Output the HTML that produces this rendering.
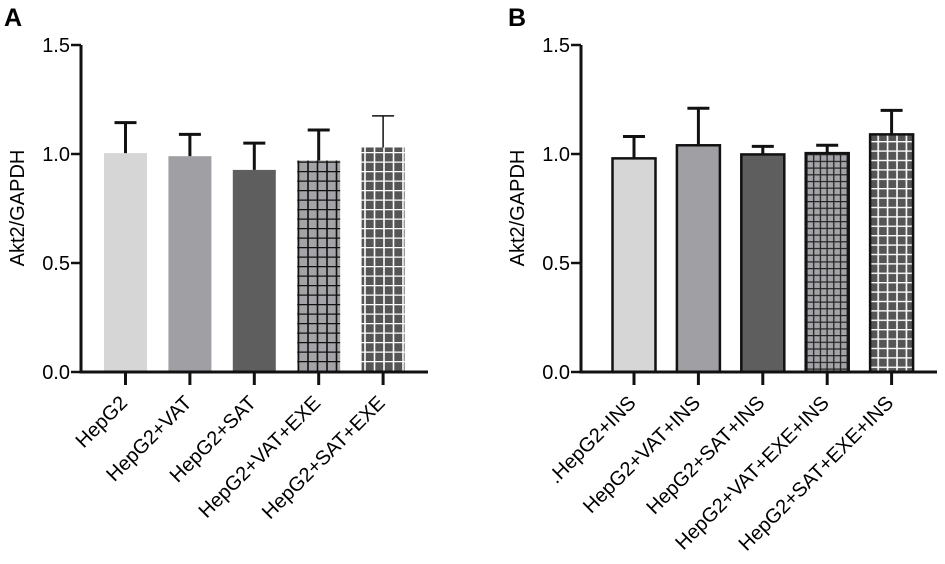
<!DOCTYPE html>
<html><head><meta charset="utf-8"><style>
body{margin:0;background:#fff}
svg{display:block;font-family:"Liberation Sans",Arial,sans-serif}
</style></head><body>
<svg id="chart" width="945" height="564" viewBox="0 0 945 564">
<defs>
<pattern id="pA4" width="9.5" height="9.5" patternUnits="userSpaceOnUse"><rect width="9.5" height="9.5" fill="#a4a4a8"/><path d="M0 0.5H9.5M4 0V9.5" stroke="#111" stroke-width="1.6"/></pattern>
<pattern id="pA5" width="9.5" height="9.5" patternUnits="userSpaceOnUse"><rect width="9.5" height="9.5" fill="#555"/><path d="M0 0.5H9.5M4 0V9.5" stroke="#fff" stroke-width="1.6"/></pattern>
<pattern id="pB4" width="6.7" height="6.7" patternUnits="userSpaceOnUse"><rect width="6.7" height="6.7" fill="#a4a4a8"/><path d="M0 0.5H6.7M3 0V6.7" stroke="#222" stroke-width="1.3"/></pattern>
<pattern id="pB5" width="9.4" height="9.4" patternUnits="userSpaceOnUse"><rect width="9.4" height="9.4" fill="#555"/><path d="M0 0.5H9.4M4 0V9.4" stroke="#fff" stroke-width="1.6"/></pattern>
</defs>
<g id="gA"></g>
<g id="gB"></g>
</svg>
<script>
const catsA = ["HepG2","HepG2+VAT","HepG2+SAT","HepG2+VAT+EXE","HepG2+SAT+EXE"];
const meanA = [1.004,0.99,0.927,0.97,1.03];
const errA = [0.14,0.10,0.123,0.14,0.145];
const catsB = [".HepG2+INS","HepG2+VAT+INS","HepG2+SAT+INS","HepG2+VAT+EXE+INS","HepG2+SAT+EXE+INS"];
const meanB = [0.98,1.04,0.998,1.004,1.09];
const errB = [0.10,0.17,0.037,0.036,0.11];
const yTicks = [0,0.5,1.0,1.5];
const yTickLabels = ["0.0","0.5","1.0","1.5"];
const fillsA = ["#d6d6d6","#a0a0a4","#5e5e5e","url(#pA4)","url(#pA5)"];
const fillsB = ["#d6d6d6","#a0a0a4","#5e5e5e","url(#pB4)","url(#pB5)"];
const NS="http://www.w3.org/2000/svg";
function mk(p,t,a){const e=document.createElementNS(NS,t);for(const k in a)e.setAttribute(k,a[k]);p.appendChild(e);return e;}
function panel(g,o){
  const y=v=>372-v*218;
  const x=i=>o.x0+i*o.step;
  const l=mk(g,"text",{x:o.lx,y:26,"font-size":25,"font-weight":"bold"});l.textContent=o.letter;
  
  
  o.cats.forEach((c,i)=>{
    const v=o.mean[i],e=o.err[i],cx=x(i);
    const b=mk(g,"rect",{x:cx-21.5,y:y(v),width:43,height:y(0)-y(v),fill:o.fills[i]});
    if(o.outline){b.setAttribute("stroke","#111");b.setAttribute("stroke-width","2.5");}
    
    
    const sw=(!o.outline&&i==4)?1.5:3;
    const eb=mk(g,"path",{d:`M${cx} ${y(v)}V${y(v+e)}M${cx-11} ${y(v+e)}H${cx+11}`,stroke:"#111","stroke-width":sw,fill:"none"});
    
    
    mk(g,"line",{x1:cx,x2:cx,y1:372,y2:385,stroke:"#111","stroke-width":3});
    const t=mk(g,"text",{x:0,y:0,"font-size":20,"text-anchor":"end",transform:`translate(${cx+3},404) rotate(-45)`});
    t.textContent=c;
    
    
  });
  mk(g,"path",{d:`M${o.ax} 45V372H${o.xend}`,stroke:"#111","stroke-width":3,fill:"none"});
  yTicks.forEach((v,i)=>{
    mk(g,"line",{x1:o.ax-10,x2:o.ax,y1:y(v),y2:y(v),stroke:"#111","stroke-width":2.5});
    const t=mk(g,"text",{x:o.ax-11,y:y(v)+7,"font-size":20,"text-anchor":"end"});t.textContent=yTickLabels[i];
    
    
  });
  const yt=mk(g,"text",{x:0,y:0,"font-size":20,"text-anchor":"middle",transform:`translate(${o.ax-57},208) rotate(-90)`});
  yt.textContent="Akt2/GAPDH";
  
  
}
panel(document.getElementById("gA"),{letter:"A",lx:4,ax:81,xend:428,x0:125.5,step:64.4,cats:catsA,mean:meanA,err:errA,fills:fillsA,outline:false});
panel(document.getElementById("gB"),{letter:"B",lx:508,ax:581,xend:937,x0:634,step:64.4,cats:catsB,mean:meanB,err:errB,fills:fillsB,outline:true});
</script>
</body></html>
